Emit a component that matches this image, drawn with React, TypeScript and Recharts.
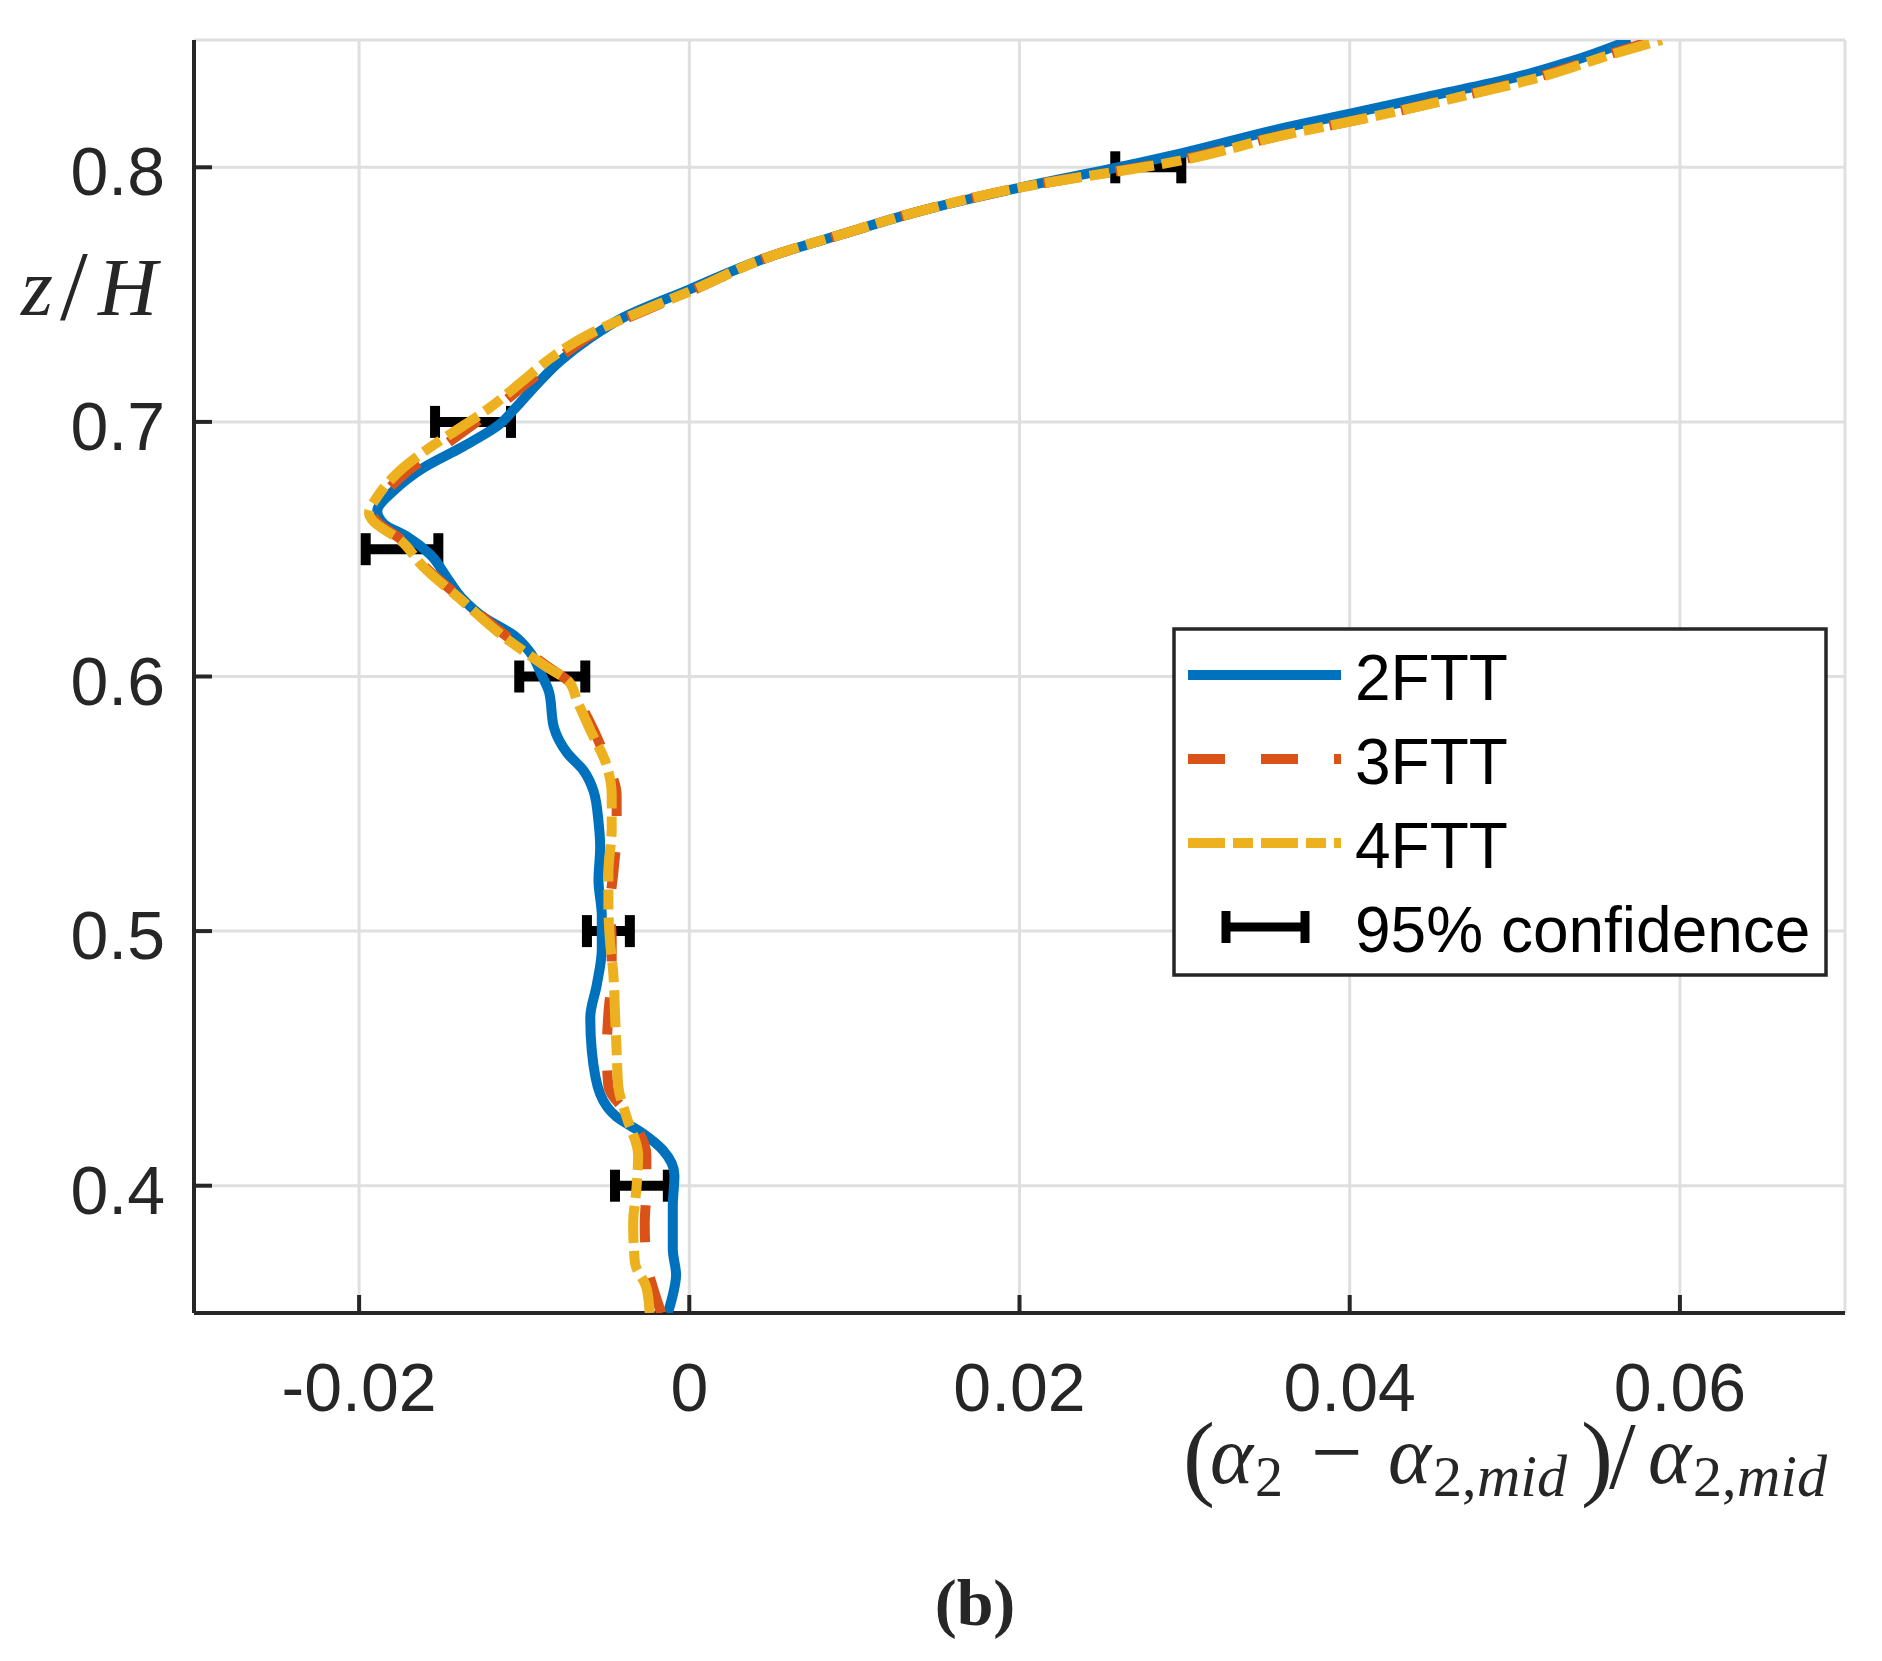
import { ScatterChart, Scatter, XAxis, YAxis, CartesianGrid, ErrorBar, Legend } from 'recharts';

// vertical profiles: z/H and (alpha2 - alpha2,mid)/alpha2,mid
const z2FTT = [0.35, 0.357, 0.365, 0.375, 0.392, 0.404, 0.414, 0.4205, 0.427, 0.436, 0.4526, 0.466, 0.479, 0.493, 0.506, 0.52, 0.533, 0.543, 0.555, 0.563, 0.57, 0.58, 0.594, 0.6, 0.61, 0.616, 0.623, 0.631, 0.639, 0.648, 0.655, 0.66, 0.665, 0.673, 0.682, 0.69, 0.699, 0.705, 0.715, 0.724, 0.733, 0.741, 0.752, 0.765, 0.774, 0.7825, 0.792, 0.8015, 0.8055, 0.8158, 0.8212, 0.8276, 0.834, 0.842, 0.85];
const x2FTT = [-0.0013, -0.001, -0.0008, -0.001, -0.001, -0.0009, -0.0016, -0.0028, -0.0044, -0.0054, -0.0059, -0.006, -0.0056, -0.0053, -0.0053, -0.0055, -0.0054, -0.0055, -0.0058, -0.0064, -0.0074, -0.0082, -0.0085, -0.0089, -0.0097, -0.0106, -0.0124, -0.0138, -0.0147, -0.0157, -0.0171, -0.0185, -0.0189, -0.0179, -0.0161, -0.0138, -0.0115, -0.0106, -0.0092, -0.0078, -0.006, -0.004, 0.0, 0.0049, 0.0094, 0.0138, 0.02, 0.0271, 0.0298, 0.0362, 0.0401, 0.0446, 0.0492, 0.0536, 0.057];

const z3FTT = [0.35, 0.36, 0.37, 0.385, 0.399, 0.412, 0.427, 0.439, 0.4526, 0.4676, 0.483, 0.496, 0.51, 0.523, 0.54, 0.5535, 0.565, 0.579, 0.5905, 0.598, 0.604, 0.617, 0.63, 0.643, 0.6535, 0.6614, 0.6641, 0.6706, 0.681, 0.69, 0.698, 0.706, 0.716, 0.7255, 0.735, 0.744, 0.7517, 0.765, 0.774, 0.7825, 0.792, 0.803, 0.813, 0.8185, 0.8283, 0.8355, 0.8446, 0.85];
const x3FTT = [-0.0017, -0.0022, -0.0026, -0.0027, -0.0026, -0.0026, -0.0036, -0.0049, -0.005, -0.0049, -0.0047, -0.0047, -0.0048, -0.0046, -0.0044, -0.0044, -0.0049, -0.0058, -0.0067, -0.0073, -0.0086, -0.0113, -0.0137, -0.016, -0.0174, -0.019, -0.0192, -0.0186, -0.017, -0.015, -0.0133, -0.0116, -0.0097, -0.0078, -0.0057, -0.0026, 0.0002, 0.0049, 0.0094, 0.0138, 0.02, 0.0298, 0.0362, 0.0404, 0.047, 0.0514, 0.0558, 0.0585];

const z4FTT = [0.35, 0.36, 0.37, 0.385, 0.399, 0.412, 0.427, 0.439, 0.4526, 0.4676, 0.483, 0.496, 0.51, 0.523, 0.54, 0.5535, 0.565, 0.579, 0.5905, 0.598, 0.604, 0.617, 0.63, 0.643, 0.6535, 0.6614, 0.6641, 0.6706, 0.681, 0.69, 0.698, 0.706, 0.716, 0.7255, 0.735, 0.744, 0.7517, 0.765, 0.774, 0.7825, 0.792, 0.8027, 0.8126, 0.8185, 0.8283, 0.8355, 0.8446, 0.85];
const x4FTT = [-0.0024, -0.0026, -0.0033, -0.0034, -0.0032, -0.0031, -0.0038, -0.0043, -0.0044, -0.0045, -0.0046, -0.0048, -0.0049, -0.0049, -0.0047, -0.0047, -0.005, -0.006, -0.0068, -0.0073, -0.0087, -0.0115, -0.0138, -0.0161, -0.0175, -0.0192, -0.0194, -0.0189, -0.0175, -0.0157, -0.0138, -0.012, -0.0101, -0.0083, -0.0059, -0.0027, 0.0002, 0.0049, 0.0094, 0.0138, 0.02, 0.0298, 0.036, 0.0404, 0.0471, 0.0516, 0.056, 0.0589];

// 95% confidence intervals
const ciZ = [0.4, 0.5, 0.6, 0.65, 0.7, 0.8];
const ciX = [-0.0029, -0.0049, -0.0083, -0.0174, -0.0131, 0.0278];
const ciHalf = [0.0016, 0.0013, 0.002, 0.0022, 0.0023, 0.002];

const xTicks = [-0.02, 0, 0.02, 0.04, 0.06];
const yTicks = [0.4, 0.5, 0.6, 0.7, 0.8];

const toPoints = (zs: number[], xs: number[]) => zs.map((z, i) => ({ z, x: xs[i] }));
const data2 = toPoints(z2FTT, x2FTT);
const data3 = toPoints(z3FTT, x3FTT);
const data4 = toPoints(z4FTT, x4FTT);
const ciData = ciZ.map((z, i) => ({ z, x: ciX[i], err: ciHalf[i] }));

const BLUE = '#0072BD';
const ORANGE = '#D95319';
const YELLOW = '#EDB120';
const AXIS = '#262626';
const SANS = '"Liberation Sans", Arial, Helvetica, sans-serif';
const SERIF = '"Liberation Serif", "Times New Roman", serif';

const LINE_W = 10;
const DASH = '37 36';
const DASHDOT = '37 8 20 8';
const TICK_LEN = 18;

const legendStyles: Record<string, any> = {
  '2FTT': { stroke: BLUE, dash: undefined },
  '3FTT': { stroke: ORANGE, dash: DASH },
  '4FTT': { stroke: YELLOW, dash: DASHDOT },
};

const noShape = () => <g />;

const LeftTick = ({ x, y, payload }: any) => (
  <g>
    <line x1={x} x2={x + TICK_LEN} y1={y} y2={y} stroke={AXIS} strokeWidth={4} />
    <text x={x - 29} y={y + 28} textAnchor="end" fontFamily={SANS} fontSize={68} fill={AXIS}>
      {String(payload.value)}
    </text>
  </g>
);

const RightTick = ({ x, y }: any) => (
  <line x1={x} x2={x - TICK_LEN} y1={y} y2={y} stroke={AXIS} strokeWidth={4} />
);

const BottomTick = ({ x, y, payload }: any) => (
  <g>
    <line x1={x} x2={x} y1={y} y2={y - TICK_LEN} stroke={AXIS} strokeWidth={4} />
    <text x={x} y={y + 98} textAnchor="middle" fontFamily={SANS} fontSize={68} fill={AXIS}>
      {String(payload.value)}
    </text>
  </g>
);

const TopTick = ({ x, y }: any) => (
  <line x1={x} x2={x} y1={y} y2={y + TICK_LEN} stroke={AXIS} strokeWidth={4} />
);

// pieces of the x-axis title, offsets measured back from the right end of the axis
const XLabel = ({ viewBox }: any) => {
  const r = viewBox.x + viewBox.width;
  const base = viewBox.y + 170;
  const sub = base + 13;
  return (
    <g>
      <text fontFamily={SERIF} fontSize={82} fill={AXIS}>
        <tspan x={r - 662} y={base + 5} fontSize={96}>(</tspan>
        <tspan x={r - 635} y={base} fontStyle="italic">α</tspan>
        <tspan x={r - 590} y={sub} fontSize={56}>2</tspan>
        <tspan x={r - 534} y={base} fontSize={92}>−</tspan>
        <tspan x={r - 457} y={base} fontStyle="italic">α</tspan>
        <tspan x={r - 412} y={sub} fontSize={58}>2,</tspan>
        <tspan x={r - 368} y={sub} fontSize={60} fontStyle="italic">mid</tspan>
        <tspan x={r - 264} y={base + 5} fontSize={96}>)</tspan>
        <tspan x={r - 236} y={base + 5} fontSize={96}>/</tspan>
        <tspan x={r - 197} y={base} fontStyle="italic">α</tspan>
        <tspan x={r - 152} y={sub} fontSize={58}>2,</tspan>
        <tspan x={r - 108} y={sub} fontSize={60} fontStyle="italic">mid</tspan>
      </text>
      <text x={975} y={viewBox.y + 312} textAnchor="middle" fontFamily={SERIF} fontWeight="bold" fontSize={66} fill={AXIS}>
        (b)
      </text>
    </g>
  );
};

const YLabel = ({ viewBox }: any) => {
  const base = viewBox.y + 275;
  return (
    <text y={base} fontFamily={SERIF} fontSize={82} fill={AXIS}>
      <tspan x={21} fontStyle="italic">z</tspan>
      <tspan x={60} fontSize={100} dy={4}>/</tspan>
      <tspan x={98} fontStyle="italic" dy={-4}>H</tspan>
    </text>
  );
};

const renderLegend = ({ payload }: any) => {
  const rows = (payload || []).map((p: any) => p.value);
  return (
    <svg width={656} height={350} style={{ display: 'block' }}>
      <rect x={2} y={2} width={652} height={346} fill="#fff" stroke={AXIS} strokeWidth={3.5} />
      {rows.map((name: string, i: number) => {
        const cy = 48 + i * 84;
        const st = legendStyles[name];
        return (
          <g key={name}>
            {st ? (
              <line x1={16} x2={169} y1={cy} y2={cy} stroke={st.stroke} strokeWidth={LINE_W} strokeDasharray={st.dash} />
            ) : (
              <g stroke="#000" strokeWidth={9}>
                <line x1={54} x2={133} y1={cy} y2={cy} />
                <line x1={54} x2={54} y1={cy - 16} y2={cy + 16} />
                <line x1={133} x2={133} y1={cy - 16} y2={cy + 16} />
              </g>
            )}
            <text x={183} y={cy + 25} fontFamily={SANS} fontSize={64} fill="#000">
              {name}
            </text>
          </g>
        );
      })}
    </svg>
  );
};

export default function App() {
  return (
    <div style={{ position: 'absolute', left: 0, top: 0, width: 1882, height: 1661, background: '#fff' }}>
      <ScatterChart width={1882} height={1661} margin={{ top: 40, right: 37, bottom: 0, left: 0 }}>
        <CartesianGrid stroke="#dfdfdf" strokeWidth={3} />
        <XAxis
          type="number"
          dataKey="x"
          domain={[-0.03, 0.07]}
          ticks={xTicks}
          interval={0}
          allowDataOverflow
          height={348}
          tickSize={0}
          tickMargin={0}
          tick={<BottomTick />}
          tickLine={false}
          axisLine={{ stroke: AXIS, strokeWidth: 4 }}
          label={{ content: XLabel }}
        />
        <XAxis
          xAxisId="top"
          orientation="top"
          type="number"
          dataKey="x"
          domain={[-0.03, 0.07]}
          ticks={xTicks}
          interval={0}
          allowDataOverflow
          height={0}
          tickSize={0}
          tickMargin={0}
          tick={<TopTick />}
          tickLine={false}
          axisLine={{ stroke: AXIS, strokeWidth: 4 }}
        />
        <YAxis
          type="number"
          dataKey="z"
          domain={[0.35, 0.85]}
          ticks={yTicks}
          interval={0}
          allowDataOverflow
          width={194}
          tickSize={0}
          tickMargin={0}
          tick={<LeftTick />}
          tickLine={false}
          axisLine={{ stroke: AXIS, strokeWidth: 4 }}
          label={{ content: YLabel }}
        />
        <YAxis
          yAxisId="right"
          orientation="right"
          type="number"
          dataKey="z"
          domain={[0.35, 0.85]}
          ticks={yTicks}
          interval={0}
          allowDataOverflow
          width={0}
          tickSize={0}
          tickMargin={0}
          tick={<RightTick />}
          tickLine={false}
          axisLine={{ stroke: AXIS, strokeWidth: 4 }}
        />
        <Scatter
          name="2FTT"
          data={data2}
          fill={BLUE}
          shape={noShape}
          line={{ stroke: BLUE, strokeWidth: LINE_W }}
          lineType="joint"
          lineJointType="monotoneY"
          isAnimationActive={false}
        />
        <Scatter
          name="3FTT"
          data={data3}
          fill={ORANGE}
          shape={noShape}
          line={{ stroke: ORANGE, strokeWidth: LINE_W, strokeDasharray: DASH }}
          lineType="joint"
          lineJointType="monotoneY"
          isAnimationActive={false}
        />
        <Scatter
          name="4FTT"
          data={data4}
          fill={YELLOW}
          shape={noShape}
          line={{ stroke: YELLOW, strokeWidth: LINE_W, strokeDasharray: DASHDOT }}
          lineType="joint"
          lineJointType="monotoneY"
          isAnimationActive={false}
        />
        <Scatter name="95% confidence" data={ciData} fill="#000" shape={noShape} isAnimationActive={false}>
          <ErrorBar dataKey="err" direction="x" width={16} stroke="#000" strokeWidth={10} isAnimationActive={false} />
        </Scatter>
        <Legend
          layout="vertical"
          align="center"
          verticalAlign="middle"
          content={renderLegend}
          wrapperStyle={{ position: 'absolute', left: 1172, top: 627, width: 656, height: 350 }}
        />
      </ScatterChart>
    </div>
  );
}
